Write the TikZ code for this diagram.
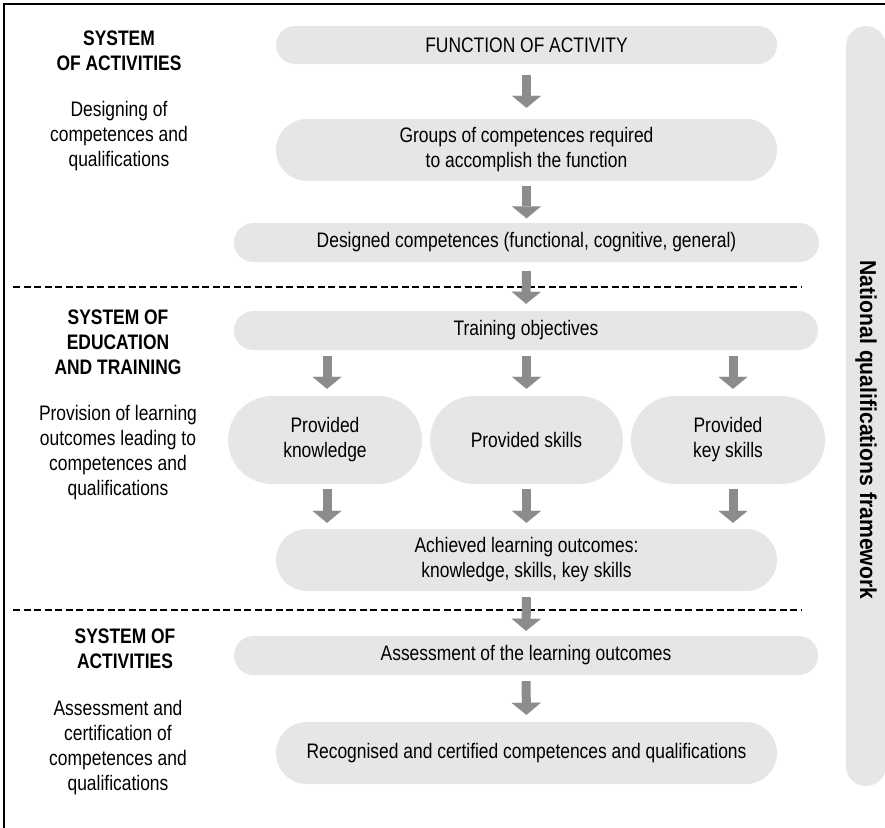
\documentclass[tikz,border=0pt]{standalone}
\usepackage{fontspec}
\setmainfont[FakeStretch=0.83]{Liberation Sans}
\newfontfamily\barfont[FakeStretch=0.92]{Liberation Sans}
\usetikzlibrary{arrows.meta,calc}
\definecolor{boxgray}{HTML}{E6E6E6}
\definecolor{arrgray}{HTML}{8C8C8C}
\newcommand\dfont{\fontsize{21}{25}\selectfont}
\begin{document}
\begin{tikzpicture}[x=1pt,y=-1pt,
  pill/.style={fill=boxgray, draw=none, inner sep=0pt, align=center, font=\dfont},
  sidetext/.style={align=center, inner sep=0pt, font=\dfont},
  sidehead/.style={align=center, inner sep=0pt, font=\dfont\bfseries},
  bigarrow/.style={draw=arrgray, line width=9pt, -{Triangle[width=29pt,length=12pt,line width=0.01pt]}},
  dashline/.style={draw=black, line width=1.9pt, dash pattern=on 7pt off 3.5pt}]
\useasboundingbox (0,0) rectangle (885,827);
% frame
\draw[line width=1.3pt] (4,828) -- (4,4) -- (886,4);
% national qualifications framework bar
\node[fill=boxgray, inner sep=0pt, minimum width=40pt, minimum height=760pt, rounded corners=20pt] (nqf) at (866,406) {};
\node[rotate=-90, inner sep=0pt, font=\barfont\fontsize{23}{27}\selectfont\bfseries] (nqft) at (866,430) {National qualifications framework};
% dashed separators
\draw[dashline] (13,287) -- (801,287);
\draw[dashline] (13,610) -- (801,610);
% main boxes
\node[pill, minimum width=501pt, minimum height=38pt, rounded corners=19pt] (f1) at (526.5,45) {FUNCTION OF ACTIVITY};
\node[pill, minimum width=501pt, minimum height=62pt, rounded corners=31pt] (f2) at (526.5,150) {Groups of competences required\\to accomplish the function};
\node[pill, minimum width=585pt, minimum height=39pt, rounded corners=19.5pt] (f3) at (526.5,242.5) {Designed competences (functional, cognitive, general)};
\node[pill, minimum width=584pt, minimum height=39pt, rounded corners=19.5pt] (t1) at (526,330.5) {Training objectives};
\node[pill, minimum width=194pt, minimum height=88pt, rounded corners=44pt] (k1) at (325,440) {Provided\\knowledge};
\node[pill, minimum width=193pt, minimum height=88pt, rounded corners=44pt] (k2) at (526.5,440) {Provided skills};
\node[pill, minimum width=194pt, minimum height=88pt, rounded corners=44pt] (k3) at (728,440) {Provided\\key skills};
\node[pill, minimum width=501pt, minimum height=62pt, rounded corners=31pt] (a1) at (526.5,560) {Achieved learning outcomes:\\knowledge, skills, key skills};
\node[pill, minimum width=584pt, minimum height=39pt, rounded corners=19.5pt] (s1) at (526,655.5) {Assessment of the learning outcomes};
\node[pill, minimum width=501pt, minimum height=62pt, rounded corners=31pt] (r1) at (526.5,753) {Recognised and certified competences and qualifications};
% arrows
\draw[bigarrow, shorten <=11pt, shorten >=11pt] (f1.south) -- (f2.north);
\draw[bigarrow, shorten <=4.5pt, shorten >=4.5pt] (f2.south) -- (f3.north);
\draw[bigarrow, shorten <=9pt, shorten >=7pt] (f3.south) -- (t1.north);
\draw[bigarrow, shorten <=6pt, shorten >=7pt] ([xshift=2pt]k1.north |- t1.south) -- ([xshift=2pt]k1.north);
\draw[bigarrow, shorten <=6pt, shorten >=7pt] (k2.north |- t1.south) -- (k2.north);
\draw[bigarrow, shorten <=6pt, shorten >=7pt] ([xshift=5pt]k3.north |- t1.south) -- ([xshift=5pt]k3.north);
\draw[bigarrow, shorten <=5pt, shorten >=6pt] ([xshift=2pt]k1.south) -- ([xshift=2pt]k1.south |- a1.north);
\draw[bigarrow, shorten <=5pt, shorten >=6pt] (k2.south) -- (k2.south |- a1.north);
\draw[bigarrow, shorten <=5pt, shorten >=6pt] ([xshift=5pt]k3.south) -- ([xshift=5pt]k3.south |- a1.north);
\draw[bigarrow, shorten <=6pt, shorten >=5pt] (a1.south) -- (s1.north);
\draw[bigarrow, shorten <=6pt, shorten >=7pt] (s1.south) -- (r1.north);
% left column texts
\node[sidehead] (h1) at (119,50.5) {SYSTEM\\OF ACTIVITIES};
\node[sidetext] (d1) at (119,136.5) {Designing of\\competences and\\qualifications};
\node[sidehead] (h2) at (118,342.5) {SYSTEM OF\\EDUCATION\\AND TRAINING};
\node[sidetext] (d2) at (118,453) {Provision of learning\\outcomes leading to\\competences and\\qualifications};
\node[sidehead] (h3) at (125,648.5) {SYSTEM OF\\ACTIVITIES};
\node[sidetext] (d3) at (118,748) {Assessment and\\certification of\\competences and\\qualifications};
\end{tikzpicture}
\end{document}
